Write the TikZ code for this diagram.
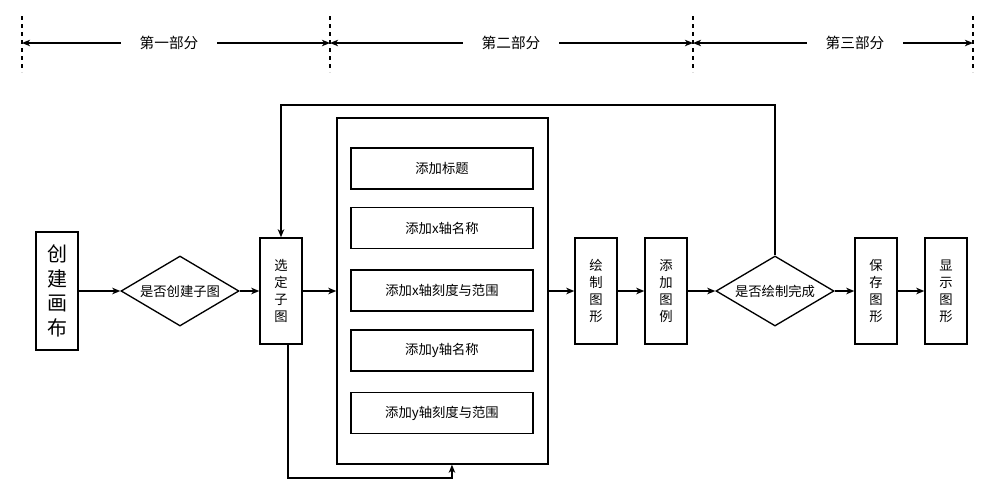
\documentclass[tikz,border=0pt]{standalone}
\usepackage{fontspec}
\newfontfamily\cjk{Noto Sans CJK SC}
\usetikzlibrary{arrows.meta,shapes.geometric}
\begin{document}
\begin{tikzpicture}[x=0.75pt,y=-0.75pt,
  every node/.style={font=\cjk\fontsize{10}{12.8}\selectfont, inner sep=0pt},
  line/.style={line width=1pt},
  arr/.style={line width=1pt,-{Stealth[length=6pt,width=4.8pt,inset=1.6pt]}},
  vbox/.style={draw,line width=1pt,minimum width=31.5pt,minimum height=79.5pt,align=center},
  hbox/.style={draw,line width=1pt,minimum width=136.5pt,minimum height=30.75pt},
  dia/.style={draw,line width=1pt,diamond,shape aspect=1.69,minimum width=88.5pt,minimum height=52.5pt},
  part/.style={font=\cjk\fontsize{11}{13}\selectfont,inner xsep=14pt},
  sep/.style={line width=0.8pt,dash pattern=on 3pt off 3pt}]
\useasboundingbox (0,0) rectangle (1008,494);
% top part markers
\coordinate (v1t) at (22,16);  \coordinate (v1b) at (22,72);
\coordinate (v2t) at (330,16); \coordinate (v2b) at (330,72);
\coordinate (v3t) at (693,16); \coordinate (v3b) at (693,72);
\coordinate (v4t) at (973,16); \coordinate (v4b) at (973,72);
\draw[sep] (v1t) -- (v1b);
\draw[sep] (v2t) -- (v2b);
\draw[sep] (v3t) -- (v3b);
\draw[sep] (v4t) -- (v4b);
\node[part] (p1) at (169,43) {第一部分};
\node[part] (p2) at (511,43) {第二部分};
\node[part] (p3) at (855,43) {第三部分};
\draw[arr] (p1.west) -- (p1.west -| v1t);
\draw[arr] (p1.east) -- (p1.east -| v2t);
\draw[arr] (p2.west) -- (p2.west -| v2t);
\draw[arr] (p2.east) -- (p2.east -| v3t);
\draw[arr] (p3.west) -- (p3.west -| v3t);
\draw[arr] (p3.east) -- (p3.east -| v4t);
% main flow
\node[vbox,minimum height=88.5pt,font=\cjk\fontsize{15}{18.4}\selectfont] (canvas) at (57,291) {创\\建\\画\\布};
\node[dia] (d1) at (180,291) {是否创建子图};
\node[vbox] (sel) at (281,291) {选\\定\\子\\图};
\node[draw,line width=1pt,minimum width=158.25pt,minimum height=259.5pt] (cont) at (442.5,291) {};
\node[hbox] (b1) at (442,168.5) {添加标题};
\node[hbox] (b2) at (442,228) {添加x轴名称};
\node[hbox] (b3) at (442,290.5) {添加x轴刻度与范围};
\node[hbox] (b4) at (442,350.5) {添加y轴名称};
\node[hbox] (b5) at (442,413) {添加y轴刻度与范围};
\node[vbox] (drawg) at (596,291) {绘\\制\\图\\形};
\node[vbox] (legend) at (666,291) {添\\加\\图\\例};
\node[dia] (d2) at (775,291) {是否绘制完成};
\node[vbox] (save) at (876,291) {保\\存\\图\\形};
\node[vbox] (show) at (946,291) {显\\示\\图\\形};
\draw[arr] (canvas.east) -- (d1.west);
\draw[arr] (d1.east) -- (sel.west);
\draw[arr] (sel.east) -- (sel.east -| cont.west);
\draw[arr] (cont.east |- drawg.west) -- (drawg.west);
\draw[arr] (drawg.east) -- (legend.west);
\draw[arr] (legend.east) -- (d2.west);
\draw[arr] (d2.east) -- (save.west);
\draw[arr] (save.east) -- (show.west);
% loops
\coordinate (top) at (0,105);
\coordinate (bot) at (0,478);
\draw[arr] (d2.north) -- (d2.north |- top) -| (sel.north);
\draw[arr] ([xshift=5.25pt]sel.south) |- ([xshift=7.1pt]cont.south |- bot) -- ([xshift=7.1pt]cont.south);
\end{tikzpicture}
\end{document}
